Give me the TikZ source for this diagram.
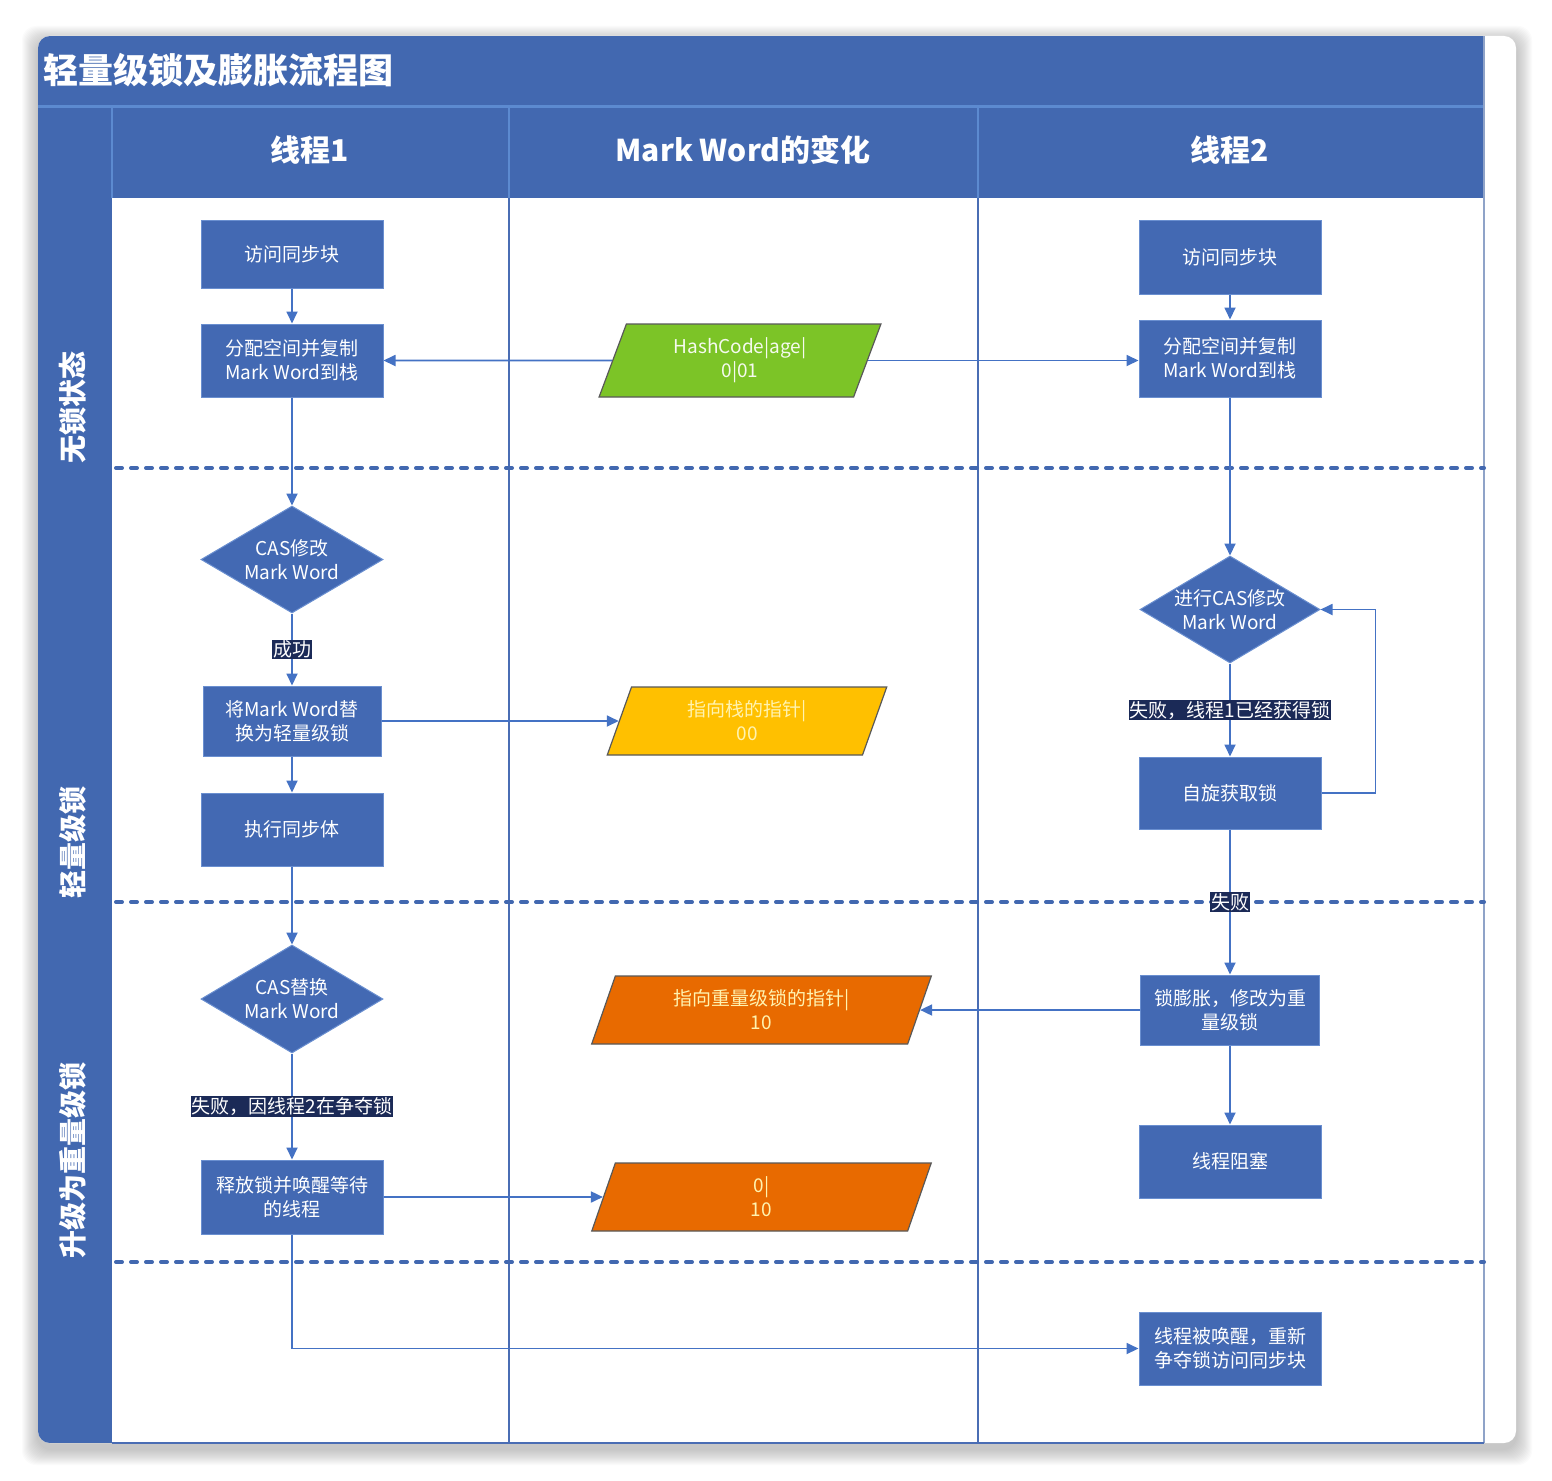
\documentclass[tikz,border=0pt]{standalone}
\usepackage{fontspec}
\setmainfont{Noto Sans CJK SC}
\usetikzlibrary{shapes.geometric,arrows.meta}
\definecolor{band}{HTML}{4268B0}
\definecolor{bandline}{HTML}{5C8AD0}
\definecolor{nodeblue}{HTML}{4369B3}
\definecolor{nodeedge}{HTML}{6A8FD0}
\definecolor{linec}{HTML}{4472C4}
\definecolor{lanec}{HTML}{4A6DB4}
\definecolor{lblbg}{HTML}{1B2A57}
\definecolor{pgreen}{HTML}{7CC427}
\definecolor{pyellow}{HTML}{FFC000}
\definecolor{porange}{HTML}{E86A00}
\definecolor{pedge}{HTML}{595959}
\definecolor{ptext}{HTML}{FFF3B0}
\definecolor{rborder}{HTML}{8FA3C8}
\begin{document}
\begin{tikzpicture}[x=1pt,y=-1pt,
  box/.style={rectangle, fill=nodeblue, draw=nodeedge, line width=1pt, text=white,
    align=center, font=\fontsize{19}{24}\selectfont, inner sep=0pt, minimum width=182pt},
  dia/.style={diamond, fill=nodeblue, draw=nodeedge, line width=1pt, inner sep=0pt,
    minimum width=182pt, minimum height=107pt},
  diatext/.style={text=white, align=center, font=\fontsize{19}{24}\selectfont},
  para/.style={trapezium, trapezium left angle=62, trapezium right angle=118,
    trapezium stretches=true, draw=pedge, line width=1.2pt, align=center,
    font=\fontsize{19}{24}\selectfont, inner sep=0pt, minimum height=70pt},
  flow/.style={draw=linec, line width=1.8pt, -{Triangle[length=12pt,width=11pt]}},
  lbl/.style={fill=lblbg, text=white, font=\fontsize{19}{22}\selectfont, inner sep=1pt},
  sep/.style={draw=band, line width=4pt, dash pattern=on 6pt off 9pt, line cap=round},
  lanetitle/.style={text=white, font=\bfseries\fontsize{30}{34}\selectfont},
  rowtitle/.style={text=white, font=\bfseries\fontsize{28}{32}\selectfont, rotate=90, anchor=west},
]
\useasboundingbox (0,0) rectangle (1552,1480);
% shadow
\foreach \i in {1,...,16}
  \fill[black, opacity=0.016, rounded corners=14pt] (38-\i,36-\i+6) rectangle (1516+\i,1443+\i+6);
% card
\fill[white, rounded corners=12pt] (38,36) rectangle (1516,1443);
\begin{scope}
  \clip[rounded corners=12pt] (38,36) rectangle (1516,1443);
  \fill[band] (38,36) rectangle (1484,198);
  \fill[band] (38,106) rectangle (112,1443);
\end{scope}
% grid lines
\draw[bandline, line width=3pt] (38,106) -- (1484,106);
\draw[bandline, line width=2pt] (112,106) -- (112,198);
\draw[bandline, line width=2pt] (509,106) -- (509,198);
\draw[bandline, line width=2pt] (978,106) -- (978,198);
\draw[lanec, line width=2pt] (509,198) -- (509,1443);
\draw[lanec, line width=2pt] (978,198) -- (978,1443);
\draw[rborder, line width=2.5pt] (1484,36) -- (1484,1443);
\draw[lanec, line width=1.5pt] (112,1443) -- (1484,1443);
% separators
\draw[sep] (116,468) -- (1484,468);
\draw[sep] (116,902) -- (1484,902);
\draw[sep] (116,1262) -- (1484,1262);
% titles
\node[text=white, font=\bfseries\fontsize{35}{38}\selectfont, anchor=west] (title) at (40,70) {轻量级锁及膨胀流程图};
\node[lanetitle] (h1) at (310,150) {线程1};
\node[lanetitle] (h2) at (743,150) {Mark Word的变化};
\node[lanetitle] (h3) at (1230,150) {线程2};
\node[rowtitle] (r1) at (73,467) {无锁状态};
\node[rowtitle] (r2) at (73,902) {轻量级锁};
\node[rowtitle] (r3) at (73,1262) {升级为重量级锁};
% lane 1
\node[box, minimum height=68pt] (A1) at (292,254) {访问同步块};
\node[box, minimum height=73pt] (A2) at (292,360.5) {分配空间并复制\\Mark Word到栈};
\node[dia, label={[diatext]center:CAS修改\\Mark Word}] (D1) at (292,559.5) {};
\node[box, minimum width=178pt, minimum height=70pt] (A3) at (292,721) {将Mark Word替\\换为轻量级锁};
\node[box, minimum height=73pt] (A4) at (292,829.5) {执行同步体};
\node[dia, minimum height=108pt, label={[diatext]center:CAS替换\\Mark Word}] (D2) at (292,999) {};
\node[box, minimum height=74pt] (A5) at (292,1197) {释放锁并唤醒等待\\的线程};
% lane 3
\node[box, minimum height=74pt] (B1) at (1230,257) {访问同步块};
\node[box, minimum height=77pt] (B2) at (1230,358.5) {分配空间并复制\\Mark Word到栈};
\node[dia, minimum width=180pt, label={[diatext]center:进行CAS修改\\Mark Word}] (D3) at (1230,609.5) {};
\node[box, minimum height=72pt] (B3) at (1230,793) {自旋获取锁};
\node[box, minimum width=179pt, minimum height=70pt] (B4) at (1230,1010) {锁膨胀，修改为重\\量级锁};
\node[box, minimum height=73pt] (B5) at (1230,1161.5) {线程阻塞};
\node[box, minimum height=73pt] (B6) at (1230,1348.5) {线程被唤醒，重新\\争夺锁访问同步块};
% middle lane
\node[para, fill=pgreen, text=white!92!pgreen, text width=200pt, minimum width=282pt, minimum height=73pt] (P1) at (740,360.5) {HashCode|age|\\0|01};
\node[para, fill=pyellow, text=ptext, text width=204pt, minimum width=280pt, minimum height=68pt] (P2) at (747,721) {指向栈的指针|\\00};
\node[para, fill=porange, text=ptext, text width=265pt, minimum width=341pt, minimum height=68pt] (P3) at (761.5,1010) {指向重量级锁的指针|\\10};
\node[para, fill=porange, text=ptext, text width=265pt, minimum width=341pt, minimum height=68pt] (P4) at (761.5,1197) {0|\\10};
% connectors lane 1
\draw[flow] (A1) -- (A2);
\draw[flow] (A2) -- (D1);
\draw[flow] (D1) -- node[lbl] (l1) {成功} (A3);
\draw[flow] (A3) -- (A4);
\draw[flow] (A4) -- (D2);
\draw[flow] (D2) -- node[lbl] (l2) {失败，因线程2在争夺锁} (A5);
\draw[flow] (A5.south) |- (B6.west);
% connectors lane 3
\draw[flow] (B1) -- (B2);
\draw[flow] (B2) -- (D3);
\draw[flow] (D3) -- node[lbl] (l3) {失败，线程1已经获得锁} (B3);
\draw[flow] (B3.east) -- ++(54,0) |- (D3.east);
\draw[flow] (B3) -- node[lbl] (l4) {失败} (B4);
\draw[flow] (B4) -- (B5);
% cross-lane connectors
\draw[flow] (P1.west) -- (A2.east);
\draw[flow] (P1.east) -- (P1.east -| B2.west);
\draw[flow] (A3.east) -- (P2.west);
\draw[flow] (B4.west) -- (P3.east);
\draw[flow] (A5.east) -- (P4.west);
\end{tikzpicture}
\end{document}
